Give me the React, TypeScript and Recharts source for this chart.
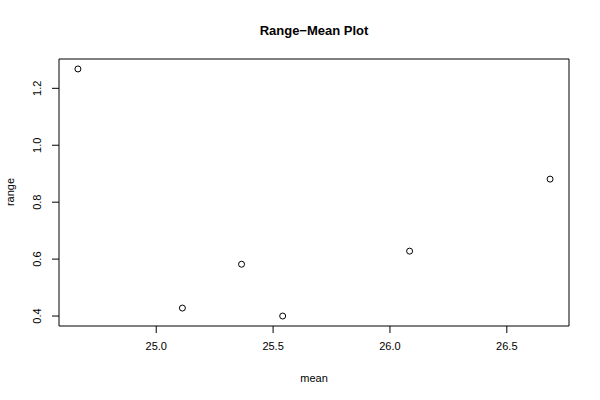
import { ScatterChart, Scatter, XAxis, YAxis, ReferenceArea, Label } from 'recharts'

// group means and ranges
const means = [24.665, 25.112, 25.365, 25.541, 26.084, 26.685]
const ranges = [1.268, 0.428, 0.582, 0.4, 0.628, 0.881]

const xTicks = [25.0, 25.5, 26.0, 26.5]
const yTicks = [0.4, 0.6, 0.8, 1.0, 1.2]

// R pads the data range by 4% on each side
const X_DOMAIN: [number, number] = [24.584, 26.766]
const Y_DOMAIN: [number, number] = [0.365, 1.303]

const FONT = '"Liberation Sans", Arial, Helvetica, sans-serif'

const data = means.map((m, i) => ({ mean: m, range: ranges[i] }))

function XTick({ x, y, payload }: any) {
  return (
    <text x={x} y={y + 15} textAnchor="middle" fontSize={11} fontFamily={FONT} fill="#000">
      {Number(payload.value).toFixed(1)}
    </text>
  )
}

function YTick({ x, y, payload }: any) {
  return (
    <text
      x={x - 9}
      y={y}
      textAnchor="middle"
      fontSize={11}
      fontFamily={FONT}
      fill="#000"
      transform={`rotate(-90, ${x - 9}, ${y})`}
    >
      {Number(payload.value).toFixed(1)}
    </text>
  )
}

function Dot({ cx, cy }: any) {
  return <circle cx={cx} cy={cy} r={3} fill="none" stroke="#000" strokeWidth={1} />
}

export default function App() {
  return (
    <div style={{ position: 'absolute', left: 0, top: 0, width: 600, height: 400, background: '#fff' }}>
      <div
        style={{
          position: 'absolute',
          left: 59,
          width: 510,
          top: 23,
          textAlign: 'center',
          fontFamily: FONT,
          fontWeight: 'bold',
          fontSize: 13,
          color: '#000',
        }}
      >
        Range−Mean Plot
      </div>
      <ScatterChart width={600} height={400} margin={{ top: 59, right: 31, bottom: 0, left: 0 }}>
        <XAxis
          type="number"
          dataKey="mean"
          domain={X_DOMAIN}
          ticks={xTicks}
          allowDataOverflow
          axisLine={false}
          tickSize={7}
          tickLine={{ stroke: '#000' }}
          tick={<XTick />}
          height={74}
        >
          <Label
            content={() => (
              <text x={314} y={382} textAnchor="middle" fontSize={11} fontFamily={FONT} fill="#000">
                mean
              </text>
            )}
          />
        </XAxis>
        <YAxis
          type="number"
          dataKey="range"
          domain={Y_DOMAIN}
          ticks={yTicks}
          allowDataOverflow
          axisLine={false}
          tickSize={7}
          tickLine={{ stroke: '#000' }}
          tick={<YTick />}
          width={59}
        >
          <Label
            content={() => (
              <text
                x={14}
                y={192}
                textAnchor="middle"
                fontSize={11}
                fontFamily={FONT}
                fill="#000"
                transform="rotate(-90, 14, 192)"
              >
                range
              </text>
            )}
          />
        </YAxis>
        <ReferenceArea
          x1={X_DOMAIN[0]}
          x2={X_DOMAIN[1]}
          y1={Y_DOMAIN[0]}
          y2={Y_DOMAIN[1]}
          fill="none"
          stroke="#000"
          strokeWidth={1}
        />
        <Scatter data={data} shape={<Dot />} isAnimationActive={false} />
      </ScatterChart>
    </div>
  )
}
